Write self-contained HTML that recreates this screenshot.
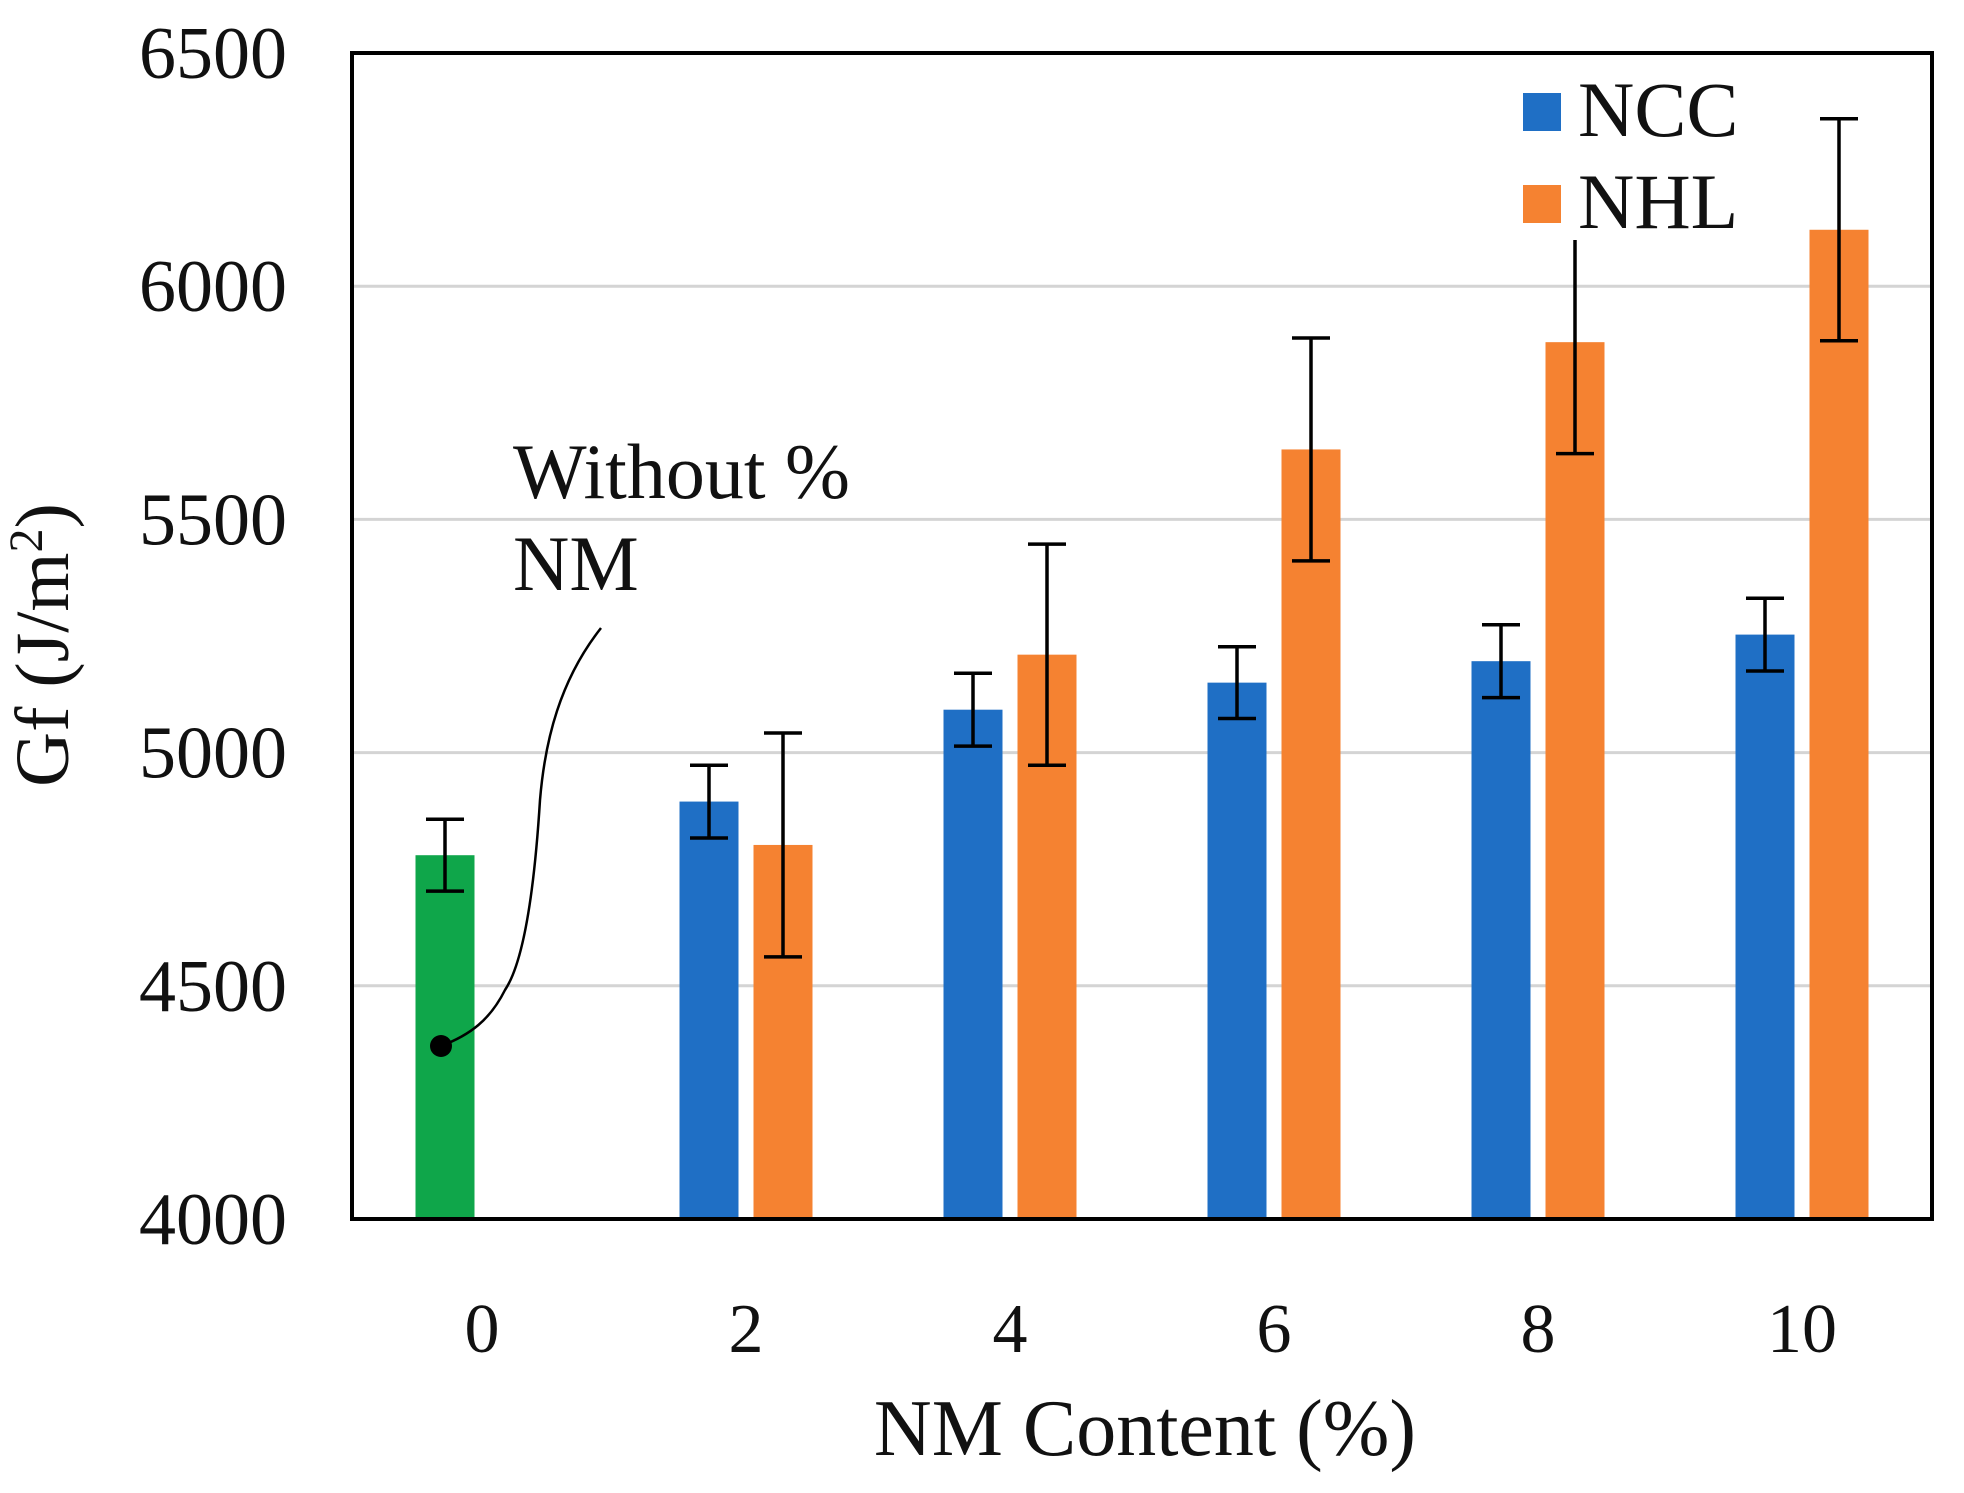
<!DOCTYPE html>
<html><head><meta charset="utf-8"><style>
html,body{margin:0;padding:0;background:#fff;}
svg text{font-family:"Liberation Serif",serif;fill:#111;}
</style></head><body>
<svg id="chart" width="1964" height="1488" viewBox="0 0 1964 1488" xmlns="http://www.w3.org/2000/svg">
<g id="grid"></g>
<g id="bars"></g>
<g id="errs"></g>
<rect x="352" y="53" width="1580" height="1166" fill="none" stroke="#000" stroke-width="4"/>
<g id="yt"></g>
<g id="xt"></g>
<text x="68" y="645" font-size="76" text-anchor="middle" transform="rotate(-90 68 645)">Gf (J/m<tspan font-size="48" dy="-26">2</tspan><tspan dy="26">)</tspan></text>
<text x="1145" y="1455" font-size="80" text-anchor="middle">NM Content (%)</text>
<g>
<rect x="1515" y="80" width="200" height="160" fill="#fff"/>
<rect x="1523" y="93" width="38" height="38" fill="#1f6fc5"/>
<text x="1578" y="136" font-size="78">NCC</text>
<rect x="1523" y="185" width="38" height="38" fill="#f58231"/>
<text x="1578" y="228" font-size="78">NHL</text>
</g>
<g>
<text x="513" y="498" font-size="78">Without %</text>
<text x="513" y="590" font-size="78">NM</text>
<path d="M601,628 C560,680 545,740 540,800 C535,880 525,960 505,990 C490,1020 470,1035 441,1046" fill="none" stroke="#000" stroke-width="2.5"/>
<circle cx="441" cy="1046" r="11" fill="#000"/>
</g>
</svg>
<script>
const categories = ["0","2","4","6","8","10"];
const nccValues = [4780, 4895, 5092, 5150, 5196, 5253];
const nccErrors = [77, 78, 78, 77, 78, 78];
const nhlValues = [null, 4802, 5210, 5650, 5880, 6121];
const nhlErrors = [null, 240, 237, 239, 239, 238];
const yTicks = [4000, 4500, 5000, 5500, 6000, 6500];

const NS = "http://www.w3.org/2000/svg";
const L = 352, R = 1932, T = 53, B = 1219, yMin = 4000, yMax = 6500;
const y = v => B - (v - yMin) / (yMax - yMin) * (B - T);
const step = 264, x0 = 482;
const xc = i => x0 + i * step;
const off = 37, bw = 59;
function mk(tag, attrs, parent) {
  const e = document.createElementNS(NS, tag);
  for (const k in attrs) e.setAttribute(k, attrs[k]);
  parent.appendChild(e);
  return e;
}
const grid = document.getElementById('grid'), bars = document.getElementById('bars'),
  errs = document.getElementById('errs'), yt = document.getElementById('yt'), xt = document.getElementById('xt');
yTicks.forEach(t => {
  if (t > yMin && t < yMax) {
    const g = mk('line', {x1: L, x2: R, y1: y(t), y2: y(t), stroke: '#d4d4d4', 'stroke-width': 3}, grid);
    
    
  }
  const tx = mk('text', {x: 287, y: y(t) + 25, 'font-size': 74, 'text-anchor': 'end'}, yt);
  tx.textContent = t;
  
  
});
function errBar(cx, v, e, name) {
  const g = mk('g', {}, errs);
  
  
  mk('line', {x1: cx, x2: cx, y1: y(v + e), y2: y(v - e), stroke: '#000', 'stroke-width': 3.5}, g);
  mk('line', {x1: cx - 19, x2: cx + 19, y1: y(v + e), y2: y(v + e), stroke: '#000', 'stroke-width': 3.5}, g);
  mk('line', {x1: cx - 19, x2: cx + 19, y1: y(v - e), y2: y(v - e), stroke: '#000', 'stroke-width': 3.5}, g);
}
categories.forEach((c, i) => {
  const cx = xc(i);
  const lbl = mk('text', {x: cx, y: 1352, 'font-size': 70, 'text-anchor': 'middle'}, xt);
  lbl.textContent = c;
  
  
  const nx = cx - off;
  const b = mk('rect', {x: nx - bw / 2, y: y(nccValues[i]), width: bw, height: B - y(nccValues[i]), fill: i === 0 ? '#0fa64a' : '#1f6fc5'}, bars);
  
  
  errBar(nx, nccValues[i], nccErrors[i], 'error-ncc-' + c);
  if (nhlValues[i] !== null) {
    const hx = cx + off;
    const b2 = mk('rect', {x: hx - bw / 2, y: y(nhlValues[i]), width: bw, height: B - y(nhlValues[i]), fill: '#f58231'}, bars);
    
    
    errBar(hx, nhlValues[i], nhlErrors[i], 'error-nhl-' + c);
  }
});
</script>
</body></html>
